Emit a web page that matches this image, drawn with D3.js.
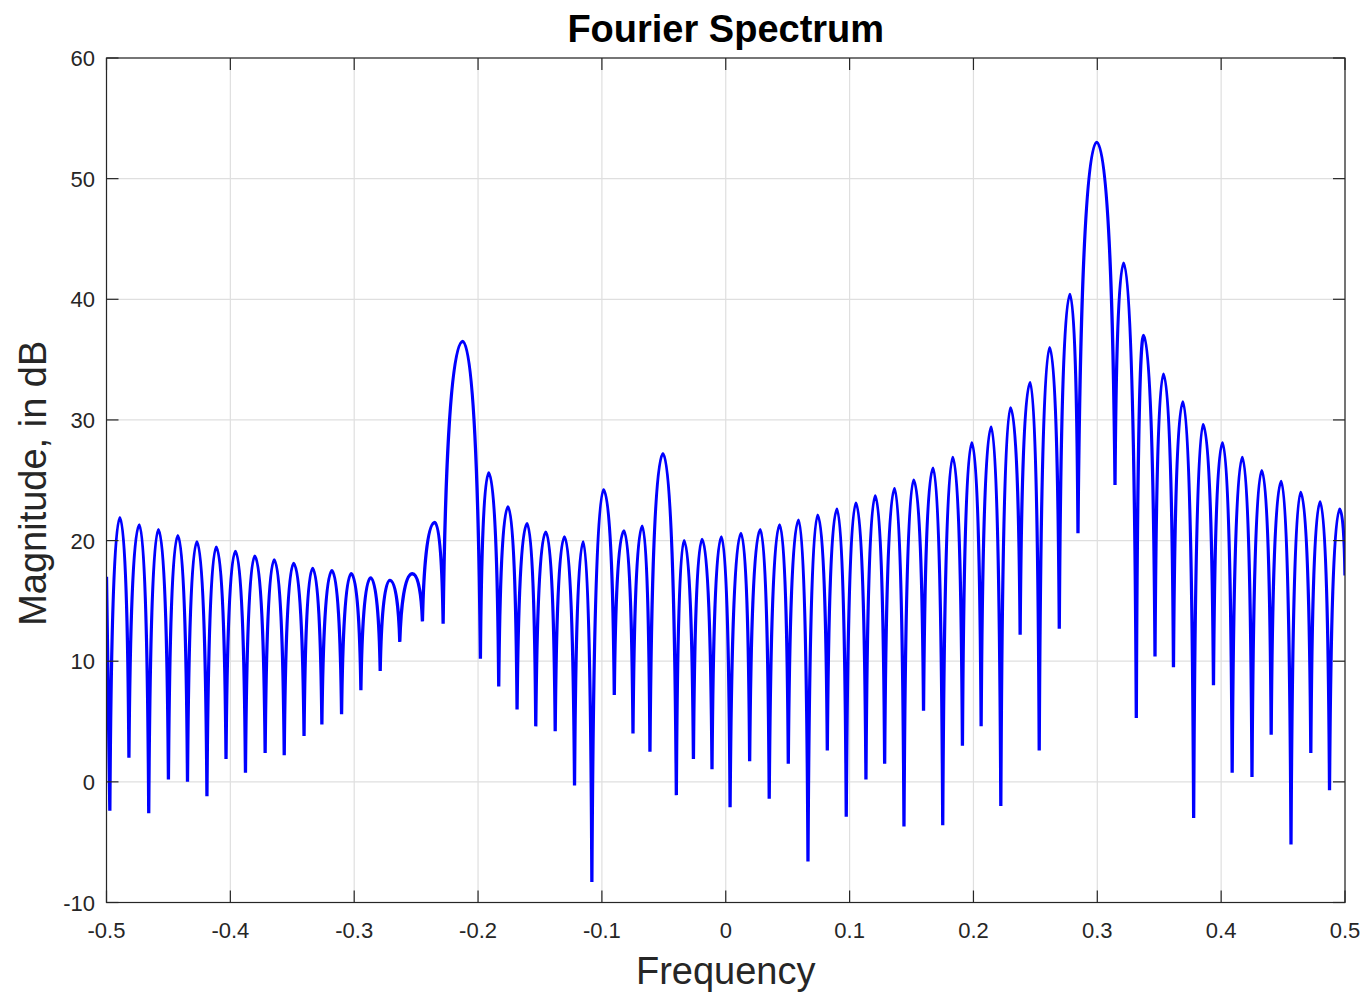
<!DOCTYPE html>
<html>
<head>
<meta charset="utf-8">
<script src="https://cdn.jsdelivr.net/npm/d3@7"></script>
<style>
  html, body { margin: 0; padding: 0; background: #ffffff; }
  svg { display: block; }
  text { font-family: "Liberation Sans", Arial, Helvetica, sans-serif; fill: #262626; }
</style>
</head>
<body>
<script>
// ---- Data (alternating edge / null / peak ... / edge) ----
const extremaFreq = [
  -0.5000,
  -0.4973, -0.4892, -0.4819, -0.4735, -0.4659, -0.4581, -0.4500, -0.4424,
  -0.4346, -0.4270, -0.4189, -0.4114, -0.4035, -0.3959, -0.3878, -0.3803,
  -0.3719, -0.3646, -0.3565, -0.3489, -0.3405, -0.3336, -0.3261, -0.3180,
  -0.3102, -0.3024, -0.2946, -0.2868, -0.2790, -0.2712, -0.2632, -0.2530,
  -0.2449, -0.2349, -0.2282, -0.2124, -0.1981, -0.1914, -0.1833, -0.1758,
  -0.1685, -0.1604, -0.1534, -0.1453, -0.1377, -0.1302, -0.1221, -0.1151,
  -0.1081, -0.0987, -0.0900, -0.0822, -0.0749, -0.0674, -0.0612, -0.0507,
  -0.0399, -0.0337, -0.0261, -0.0191, -0.0111, -0.0035,  0.0035,  0.0123,
   0.0193,  0.0279,  0.0351,  0.0435,  0.0505,  0.0588,  0.0664,  0.0742,
   0.0820,  0.0898,  0.0973,  0.1051,  0.1132,  0.1207,  0.1283,  0.1363,
   0.1439,  0.1517,  0.1597,  0.1674,  0.1752,  0.1833,  0.1911,  0.1987,
   0.2062,  0.2143,  0.2221,  0.2299,  0.2377,  0.2458,  0.2531,  0.2615,
   0.2693,  0.2779,  0.2844,  0.2995,  0.3143,  0.3213,  0.3315,  0.3374,
   0.3466,  0.3534,  0.3615,  0.3691,  0.3778,  0.3854,  0.3938,  0.4011,
   0.4089,  0.4171,  0.4249,  0.4328,  0.4404,  0.4485,  0.4564,  0.4642,
   0.4724,  0.4799,  0.4875,  0.4957,
   0.5000
];
const extremaDB = [
  17.0,
  -2.4, 21.9,  2.0, 21.3, -2.6, 20.9,  0.2, 20.4,
   0.0, 19.9, -1.2, 19.45, 1.9, 19.1,  0.75, 18.7,
   2.4, 18.4,  2.2, 18.1,  3.8, 17.7,  4.75, 17.5,
   5.6, 17.25, 7.6, 16.9,  9.2, 16.7, 11.6, 17.25,
  13.3, 21.5, 13.1, 36.5, 10.2, 25.6,  7.9, 22.8,
   6.0, 21.4,  4.6, 20.7,  4.2, 20.3, -0.3, 19.9,
  -8.3, 24.2,  7.2, 20.8,  4.0, 21.2,  2.5, 27.2,
  -1.1, 20.0,  1.9, 20.1,  1.05, 20.3, -2.1, 20.6,
   1.7, 20.9, -1.4, 21.3,  1.5, 21.7, -6.6, 22.1,
   2.6, 22.6, -2.9, 23.1,  0.2, 23.7,  1.5, 24.3,
  -3.7, 25.0,  5.9, 26.0, -3.6, 26.9,  3.0, 28.1,
   4.6, 29.4, -2.0, 31.0, 12.2, 33.1,  2.6, 36.0,
  12.7, 40.4, 20.6, 53.0, 24.6, 43.0,  5.3, 37.0,
  10.4, 33.8,  9.5, 31.5, -3.0, 29.6,  8.0, 28.1,
   0.76, 26.9, 0.4, 25.8,  3.9, 24.9, -5.2, 24.0,
   2.4, 23.2, -0.7, 22.6,
  17.1
];
const xTicks = [-0.5, -0.4, -0.3, -0.2, -0.1, 0, 0.1, 0.2, 0.3, 0.4, 0.5];
const xTickLabels = ["-0.5", "-0.4", "-0.3", "-0.2", "-0.1", "0", "0.1", "0.2", "0.3", "0.4", "0.5"];
const yTicks = [-10, 0, 10, 20, 30, 40, 50, 60];
const yTickLabels = ["-10", "0", "10", "20", "30", "40", "50", "60"];
const titleText = "Fourier Spectrum";
const xLabelText = "Frequency";
const yLabelText = "Magnitude, in dB";

// ---- Layout ----
const W = 1364, H = 994;
const mLeft = 106.5, mRight = 1345, mTop = 58, mBottom = 902.5;
const axisColor = "#262626", gridColor = "#dfdfdf", tickLen = 12;

const svg = d3.select("body").append("svg").attr("width", W).attr("height", H);

const x = d3.scaleLinear().domain([-0.5, 0.5]).range([mLeft, mRight]);
const y = d3.scaleLinear().domain([-10, 60]).range([mBottom, mTop]);

// Grid
const grid = svg.append("g");
grid.selectAll("line.gx").data(xTicks).enter().append("line")
  .attr("x1", d => x(d)).attr("x2", d => x(d)).attr("y1", mTop).attr("y2", mBottom)
  .attr("stroke", gridColor).attr("stroke-width", 1.2);
grid.selectAll("line.gy").data(yTicks).enter().append("line")
  .attr("y1", d => y(d)).attr("y2", d => y(d)).attr("x1", mLeft).attr("x2", mRight)
  .attr("stroke", gridColor).attr("stroke-width", 1.2);

// Lobe curve: steep near nulls, rounded at peaks
function LobeCurve(context) { this._context = context; }
LobeCurve.prototype = {
  areaStart() {}, areaEnd() {},
  lineStart() { this._pts = []; },
  point(px, py) { this._pts.push([+px, +py]); },
  lineEnd() {
    const p = this._pts, c = this._context;
    if (!p.length) return;
    c.moveTo(p[0][0], p[0][1]);
    for (let i = 0; i < p.length - 1; i++) {
      const a = p[i], b = p[i + 1];
      const dx = b[0] - a[0], dy = b[1] - a[1];
      if (i === 0) { c.lineTo(b[0], b[1]); continue; }
      if (b[1] < a[1]) { // rising (null -> peak)
        c.bezierCurveTo(a[0] + 0.1 * dx, a[1] + 0.55 * dy, a[0] + 0.4 * dx, b[1], b[0], b[1]);
      } else { // falling (peak -> null)
        c.bezierCurveTo(a[0] + 0.6 * dx, a[1], a[0] + 0.9 * dx, a[1] + 0.45 * dy, b[0], b[1]);
      }
    }
  }
};
const lobeCurve = ctx => new LobeCurve(ctx);

svg.append("clipPath").attr("id", "plotclip").append("rect")
  .attr("x", mLeft).attr("y", mTop).attr("width", mRight - mLeft).attr("height", mBottom - mTop);

const series = extremaFreq.map((f, i) => ({ f, v: extremaDB[i] }));
const line = d3.line().x(d => x(d.f)).y(d => y(d.v)).curve(lobeCurve);
svg.append("path").datum(series)
  .attr("clip-path", "url(#plotclip)")
  .attr("d", line)
  .attr("fill", "none").attr("stroke", "#0000ff").attr("stroke-width", 3.3)
  .attr("stroke-linejoin", "bevel");

// Axes (box with inward ticks on all sides)
const axes = svg.append("g");
axes.append("rect").attr("x", mLeft).attr("y", mTop).attr("width", mRight - mLeft).attr("height", mBottom - mTop)
  .attr("fill", "none").attr("stroke", axisColor).attr("stroke-width", 1.2);
axes.selectAll("line.tb").data(xTicks).enter().append("line")
  .attr("x1", d => x(d)).attr("x2", d => x(d)).attr("y1", mBottom).attr("y2", mBottom - tickLen)
  .attr("stroke", axisColor).attr("stroke-width", 1.2);
axes.selectAll("line.tt").data(xTicks).enter().append("line")
  .attr("x1", d => x(d)).attr("x2", d => x(d)).attr("y1", mTop).attr("y2", mTop + tickLen)
  .attr("stroke", axisColor).attr("stroke-width", 1.2);
axes.selectAll("line.tl").data(yTicks).enter().append("line")
  .attr("y1", d => y(d)).attr("y2", d => y(d)).attr("x1", mLeft).attr("x2", mLeft + tickLen)
  .attr("stroke", axisColor).attr("stroke-width", 1.2);
axes.selectAll("line.tr").data(yTicks).enter().append("line")
  .attr("y1", d => y(d)).attr("y2", d => y(d)).attr("x1", mRight).attr("x2", mRight - tickLen)
  .attr("stroke", axisColor).attr("stroke-width", 1.2);

// Tick labels
axes.selectAll("text.xl").data(xTicks).enter().append("text")
  .attr("x", d => x(d)).attr("y", 938).attr("text-anchor", "middle")
  .style("font-size", "22px").text((d, i) => xTickLabels[i]);
axes.selectAll("text.yl").data(yTicks).enter().append("text")
  .attr("x", 95).attr("y", d => y(d) + 8).attr("text-anchor", "end")
  .style("font-size", "22px").text((d, i) => yTickLabels[i]);

// Labels and title
svg.append("text").attr("x", (mLeft + mRight) / 2).attr("y", 984).attr("text-anchor", "middle")
  .style("font-size", "38px").text(xLabelText);
svg.append("text").attr("transform", `translate(46,${(mTop + mBottom) / 2 + 3}) rotate(-90)`)
  .attr("text-anchor", "middle").style("font-size", "38px").text(yLabelText);
svg.append("text").attr("x", (mLeft + mRight) / 2).attr("y", 42).attr("text-anchor", "middle")
  .style("font-size", "38px").style("font-weight", "bold").style("fill", "#000000").text(titleText);
</script>
</body>
</html>
